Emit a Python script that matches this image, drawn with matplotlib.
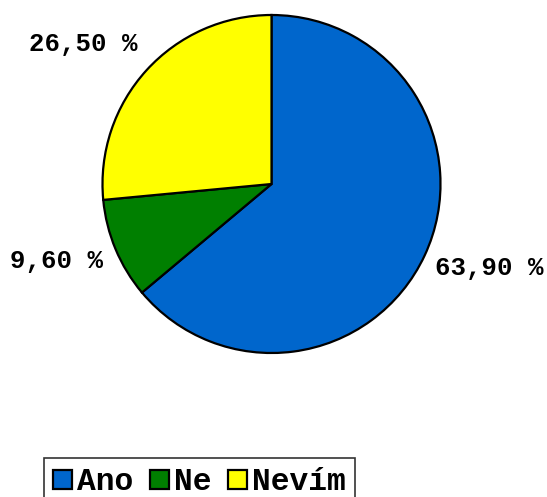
import numpy as np
import matplotlib
matplotlib.use("Agg")
from matplotlib import pyplot as plt

labels = ["Ano", "Ne", "Nevím"]
values = [63.9, 9.6, 26.5]
colors = ["#0066CC", "#007F00", "#FFFF00"]

W, H = 547, 497
fig = plt.figure(figsize=(W / 100, H / 100), dpi=100)
# axes in pixel units (y up)
ax = fig.add_axes([0, 0, 1, 1])

cx, cy, r = 271.5, H - 184, 169
wedges, _ = ax.pie(values, colors=colors, startangle=90, counterclock=False,
                   center=(cx, cy), radius=r, frame=True,
                   wedgeprops=dict(edgecolor="black", linewidth=1.6))
ax.set_xlim(0, W)
ax.set_ylim(0, H)
ax.set_aspect("equal")
ax.axis("off")

font = dict(family="Liberation Mono", weight="bold", size=18.5)

# label positions (pixel, top-left origin)
label_pos = [(489, 268), (57, 261), (83, 44)]
for v, (lx, ly) in zip(values, label_pos):
    txt = ("%.2f %%" % v).replace(".", ",")
    ax.text(lx, H - ly, txt, ha="center", va="center", **font)

leg = fig.legend(wedges, labels, loc="upper left",
                 bbox_to_anchor=(44 / W, 1 - 458 / H),
                 ncol=3, frameon=True, fancybox=False,
                 handlelength=0.61, handleheight=0.54, handletextpad=0.15,
                 columnspacing=0.53, borderpad=0.3, borderaxespad=0,
                 prop=dict(family="Liberation Mono", weight="bold", size=22.5))
leg.get_frame().set_edgecolor("black")
leg.get_frame().set_linewidth(1.2)
for h in leg.legend_handles:
    h.set_linewidth(1.6)

fig.savefig("out.png", dpi=100)
